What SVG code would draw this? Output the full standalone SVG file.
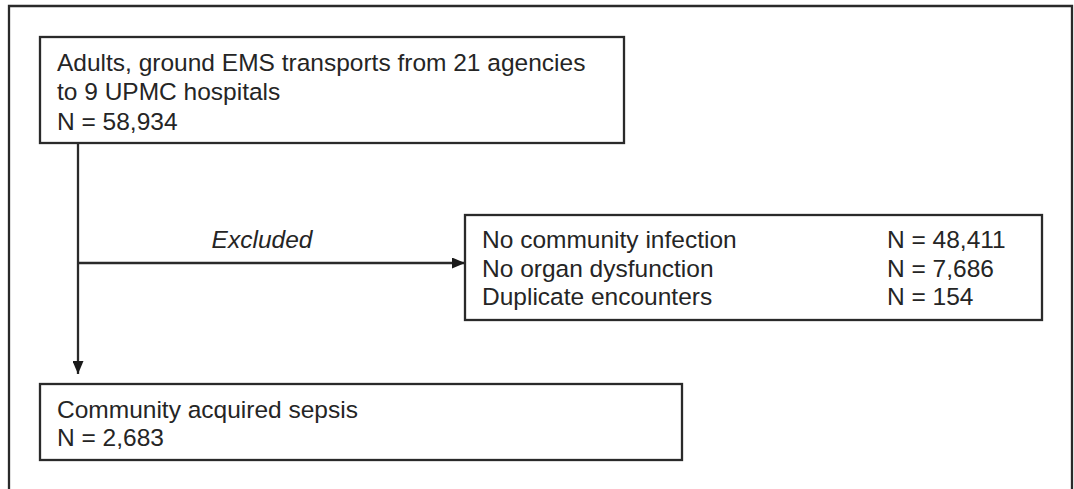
<svg xmlns="http://www.w3.org/2000/svg" width="1074" height="489" viewBox="0 0 1074 489">
<style>
.box{fill:#fff;stroke:#2a2a2a;stroke-width:2.3}
.t{font-family:"Liberation Sans",Arial,sans-serif;font-size:24.5px;fill:#252525}
.it{font-style:italic}
.ln{stroke:#2a2a2a;stroke-width:2.3;fill:none}
</style>
<defs>
<marker id="ah" viewBox="0 0 13 11" refX="13" refY="5.5" markerWidth="13" markerHeight="11" markerUnits="userSpaceOnUse" orient="auto">
<path d="M0,0 L13,5.5 L0,11 Z" fill="#1a1a1a"/>
</marker>
</defs>
<rect width="1074" height="489" fill="#fff"/>
<path class="ln" d="M9,489 V6 H1072 V489"/>
<g id="connectors">
<path class="ln" d="M78,143 V374" marker-end="url(#ah)"/>
<path class="ln" d="M78,263 H465" marker-end="url(#ah)"/>
<text class="t it" x="262" y="248" text-anchor="middle">Excluded</text>
</g>
<g id="node-start">
<rect class="box" x="40" y="37" width="584" height="106"/>
<text class="t" x="57" y="70.5">Adults, ground EMS transports from 21 agencies</text>
<text class="t" x="57" y="100">to 9 UPMC hospitals</text>
<text class="t" x="57" y="129.5">N = 58,934</text>
</g>
<g id="node-excluded">
<rect class="box" x="465" y="215" width="577" height="105"/>
<text class="t" x="482" y="248">No community infection</text>
<text class="t" x="482" y="276.5">No organ dysfunction</text>
<text class="t" x="482" y="305">Duplicate encounters</text>
<text class="t" x="887" y="248">N = 48,411</text>
<text class="t" x="887" y="276.5">N = 7,686</text>
<text class="t" x="887" y="305">N = 154</text>
</g>
<g id="node-sepsis">
<rect class="box" x="40" y="384" width="642" height="76"/>
<text class="t" x="57" y="418">Community acquired sepsis</text>
<text class="t" x="57" y="446">N = 2,683</text>
</g>
</svg>
